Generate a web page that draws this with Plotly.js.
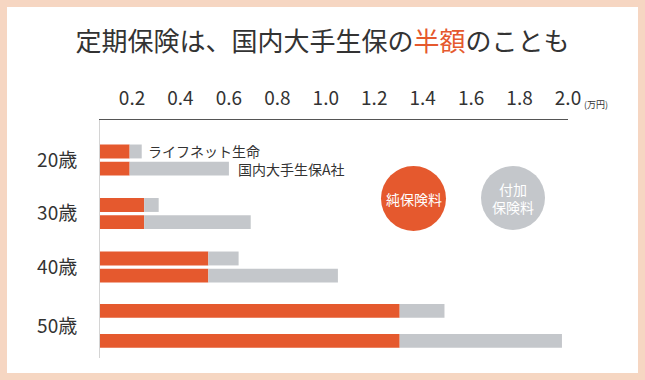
<!DOCTYPE html>
<html>
<head>
<meta charset="utf-8">
<script src="https://cdn.plot.ly/plotly-3.0.1.min.js"></script>
<style>html,body{margin:0;padding:0;background:#f6d6c2;}#chart{width:645px;height:380px;}</style>
</head>
<body>
<div id="chart"></div>
<script>
// ---- data ----
const ages = ['20歳', '30歳', '40歳', '50歳'];
const companies = ['ライフネット生命', '国内大手生保A社'];
const componentNames = ['純保険料', '付加保険料'];
// 純保険料 (万円)
const lifenetPure = [0.19, 0.25, 0.515, 1.305];
const majorPure   = [0.19, 0.25, 0.515, 1.305];
// 付加保険料 (万円)
const lifenetLoad = [0.05, 0.06, 0.125, 0.185];
const majorLoad   = [0.41, 0.44, 0.535, 0.67];
const xTickVals = [0.2, 0.4, 0.6, 0.8, 1.0, 1.2, 1.4, 1.6, 1.8, 2.0];
const xTickText = ['0.2', '0.4', '0.6', '0.8', '1.0', '1.2', '1.4', '1.6', '1.8', '2.0'];

// ---- style / layout constants ----
const ORANGE = '#e5592e';
const GRAY = '#c4c7cb';
const groupPos = [0, 1, 2, 3.1];
const halfSep = [0.16, 0.16, 0.16, 0.28];
const barW = 0.26;

const yLife = groupPos.map((p, i) => p - halfSep[i]);
const yMajor = groupPos.map((p, i) => p + halfSep[i]);

function bar(y, x, base, color, name) {
  const t = {type: 'bar', orientation: 'h', y: y, x: x, width: barW,
    marker: {color: color, line: {width: 0}}, name: name, showlegend: false, hoverinfo: 'x+name'};
  if (base) t.base = base;
  return t;
}

const traces = [
  bar(yLife, lifenetPure, null, ORANGE, companies[0] + ' ' + componentNames[0]),
  bar(yLife, lifenetLoad, lifenetPure, GRAY, companies[0] + ' ' + componentNames[1]),
  bar(yMajor, majorPure, null, ORANGE, companies[1] + ' ' + componentNames[0]),
  bar(yMajor, majorLoad, majorPure, GRAY, companies[1] + ' ' + componentNames[1])
];

const lifeTotal0 = lifenetPure[0] + lifenetLoad[0];
const majorTotal0 = majorPure[0] + majorLoad[0];

const FONT = '"Noto Sans CJK JP", "Noto Sans", sans-serif';

const layout = {
  width: 645, height: 380,
  margin: {l: 100, r: 77, t: 120, b: 22, pad: 0},
  paper_bgcolor: '#f6d6c2',
  plot_bgcolor: 'rgba(0,0,0,0)',
  barmode: 'overlay',
  font: {family: FONT, color: '#333'},
  title: {
    text: '定期保険は、国内大手生保の<span style="color:' + ORANGE + '">半額</span>のことも',
    font: {family: FONT, size: 26, color: '#333'},
    x: 0.5, xref: 'container', xanchor: 'center',
    y: 1 - 42 / 380, yref: 'container', yanchor: 'middle'
  },
  xaxis: {
    side: 'top', range: [0.0677, 2.0], fixedrange: true,
    tickvals: xTickVals, ticktext: xTickText,
    showgrid: false, zeroline: false,
    showline: true, linecolor: '#555', linewidth: 1.2,
    ticks: 'outside', ticklen: 6, tickcolor: 'rgba(0,0,0,0)',
    tickfont: {family: FONT, size: 19, color: '#333'}
  },
  yaxis: {
    range: [3.70, -0.748], fixedrange: true,
    tickvals: groupPos, ticktext: ages,
    showgrid: false, zeroline: false,
    showline: true, linecolor: '#d4d4d4', linewidth: 1,
    ticks: 'outside', ticklen: 18, tickcolor: 'rgba(0,0,0,0)',
    tickfont: {family: FONT, size: 19, color: '#333'}
  },
  shapes: [
    {type: 'rect', xref: 'paper', yref: 'paper', layer: 'below',
     x0: (7 - 100) / 468, x1: (638 - 100) / 468, y0: (358 - 373) / 238, y1: (358 - 7) / 238,
     fillcolor: '#ffffff', line: {width: 0}},
    {type: 'circle', xref: 'paper', yref: 'paper', xsizemode: 'pixel', ysizemode: 'pixel',
     xanchor: (413.5 - 100) / 468, yanchor: (358 - 198.5) / 238,
     x0: -32.5, x1: 32.5, y0: -32.5, y1: 32.5, fillcolor: ORANGE, line: {width: 0}},
    {type: 'circle', xref: 'paper', yref: 'paper', xsizemode: 'pixel', ysizemode: 'pixel',
     xanchor: (513 - 100) / 468, yanchor: (358 - 198) / 238,
     x0: -32, x1: 32, y0: -32, y1: 32, fillcolor: GRAY, line: {width: 0}}
  ],
  annotations: [
    {xref: 'paper', yref: 'paper', x: (596 - 100) / 468, y: (358 - 104) / 238,
     text: '(万円)', showarrow: false, font: {size: 9, color: '#333'}, xanchor: 'center', yanchor: 'middle'},
    {xref: 'x', yref: 'y', x: lifeTotal0, y: yLife[0], xshift: 4, xanchor: 'left', yanchor: 'middle',
     text: companies[0], showarrow: false, font: {size: 14, color: '#333'}},
    {xref: 'x', yref: 'y', x: majorTotal0, y: yMajor[0], xshift: 7, xanchor: 'left', yanchor: 'middle',
     text: companies[1], showarrow: false, font: {size: 14, color: '#333'}},
    {xref: 'paper', yref: 'paper', x: (413.5 - 100) / 468, y: (358 - 198.5) / 238,
     text: componentNames[0], showarrow: false, font: {size: 14, color: '#ffffff'}, xanchor: 'center', yanchor: 'middle'},
    {xref: 'paper', yref: 'paper', x: (513 - 100) / 468, y: (358 - 198) / 238,
     text: '付加<br>保険料', showarrow: false, font: {size: 14, color: '#ffffff'}, xanchor: 'center', yanchor: 'middle'}
  ]
};

Plotly.newPlot('chart', traces, layout, {displayModeBar: false, staticPlot: true});
</script>
</body>
</html>
